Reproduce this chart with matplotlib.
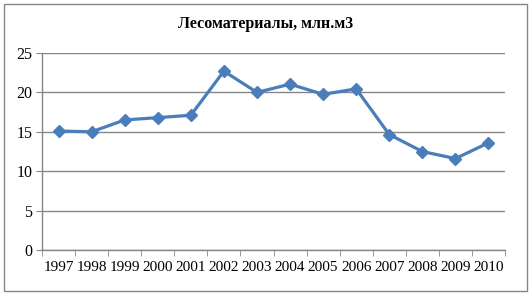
import numpy as np
import matplotlib.pyplot as plt
from matplotlib.patches import Rectangle

# данные
years = ['1997', '1998', '1999', '2000', '2001', '2002', '2003',
         '2004', '2005', '2006', '2007', '2008', '2009', '2010']
values = [15.1, 15.0, 16.5, 16.8, 17.1, 22.7, 20.0,
          21.05, 19.75, 20.45, 14.65, 12.5, 11.6, 13.6]
y_ticks = [0, 5, 10, 15, 20, 25]

LINE_COLOR = '#4A7EBB'
GRID_COLOR = '#868686'

plt.rcParams['font.family'] = ['Liberation Serif', 'DejaVu Serif']

fig = plt.figure(figsize=(5.31, 2.94), dpi=100)
ax = fig.add_axes([42 / 531, 1 - 250 / 294, 463 / 531, 197 / 294])

x = np.arange(len(years))
ax.plot(x, values, color=LINE_COLOR, linewidth=2.3, marker='D',
        markersize=6, markerfacecolor=LINE_COLOR, markeredgecolor=LINE_COLOR)

ax.set_xlim(-0.5, len(years) - 0.5)
ax.set_ylim(0, 25)
ax.set_yticks(y_ticks)
ax.set_yticklabels([str(t) for t in y_ticks], fontsize=11.5)

# подписи по центру категорий, засечки между ними
ax.set_xticks(x)
ax.set_xticklabels(years, fontsize=11)
ax.tick_params(axis='x', which='major', length=0, pad=8)
ax.set_xticks(np.arange(-0.5, len(years)), minor=True)
ax.tick_params(axis='x', which='minor', length=4, color=GRID_COLOR, direction='out')
ax.tick_params(axis='y', length=4, color=GRID_COLOR, pad=3)

ax.grid(axis='y', color=GRID_COLOR, linewidth=1)
ax.set_axisbelow(True)
for side in ['top', 'right']:
    ax.spines[side].set_visible(False)
for side in ['left', 'bottom']:
    ax.spines[side].set_color(GRID_COLOR)
    ax.spines[side].set_linewidth(1)

fig.text(0.5, 1 - 24 / 294, 'Лесоматериалы, млн.м3', ha='center', va='center',
         fontsize=11.5, fontweight='bold')

# рамка вокруг диаграммы
fig.patches.append(Rectangle((4 / 531, 1 - 291 / 294), 523 / 531, 287 / 294,
                             transform=fig.transFigure, fill=False,
                             edgecolor=GRID_COLOR, linewidth=1))

fig.savefig('out.png', dpi=100)
